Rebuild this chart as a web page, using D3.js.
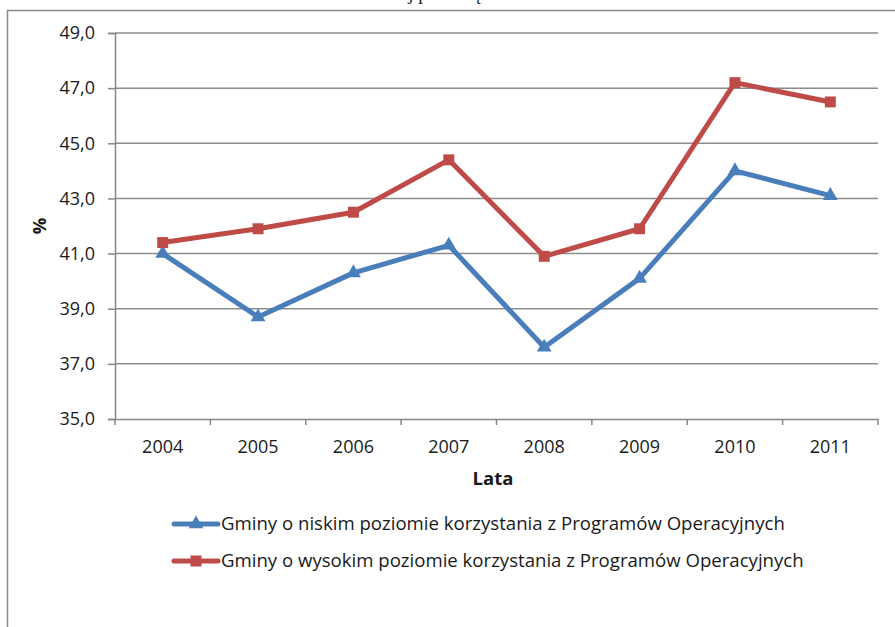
<!DOCTYPE html>
<html>
<head>
<meta charset="utf-8">
<script src="https://cdn.jsdelivr.net/npm/d3@7"></script>
<style>
  body { margin: 0; background: #fff; }
  svg { display: block; }
  text { font-family: "Open Sans", sans-serif; fill: #1a1a1a; }
</style>
</head>
<body>
<svg id="chart" width="895" height="627"></svg>
<script>
const years = ['2004', '2005', '2006', '2007', '2008', '2009', '2010', '2011'];
const lowUse = [41.0, 38.7, 40.3, 41.3, 37.6, 40.1, 44.0, 43.1];
const highUse = [41.4, 41.9, 42.5, 44.4, 40.9, 41.9, 47.2, 46.5];
const yTicks = [35, 37, 39, 41, 43, 45, 47, 49];
const seriesNames = [
  'Gminy o niskim poziomie korzystania z Programów Operacyjnych',
  'Gminy o wysokim poziomie korzystania z Programów Operacyjnych'
];

const width = 895, height = 627;
const margin = { top: 33, right: 17, bottom: 208, left: 115 };
const blue = '#4a7ebb', red = '#be4b48';

const svg = d3.select('#chart');

// frame of the cut-out figure
svg.append('path')
  .attr('d', `M7.5,${height} V10.5 H${width}`)
  .attr('fill', 'none')
  .attr('stroke', '#8a8a8a')
  .attr('stroke-width', 1.5);

// title, mostly cut off at the top
svg.append('text')
  .attr('x', 456)
  .attr('y', 0)
  .attr('text-anchor', 'middle')
  .style('font-family', '"Liberation Serif", serif')
  .style('font-size', '19px')
  .text('lokalnej przedsiębiorczości');

const x = d3.scaleBand()
  .domain(years)
  .range([margin.left, width - margin.right]);

const y = d3.scaleLinear()
  .domain([35, 49])
  .range([height - margin.bottom, margin.top]);

// gridlines
svg.append('g')
  .selectAll('line')
  .data(yTicks.slice(1))
  .join('line')
  .attr('x1', margin.left)
  .attr('x2', width - margin.right)
  .attr('y1', d => y(d))
  .attr('y2', d => y(d))
  .attr('stroke', '#8c8c8c')
  .attr('stroke-width', 1.5);

// y axis
const yAxis = svg.append('g')
  .attr('transform', `translate(${margin.left},0)`)
  .call(d3.axisLeft(y).tickValues(yTicks).tickSize(7).tickPadding(13)
    .tickFormat(d => d3.format('.1f')(d).replace('.', ',')));
yAxis.select('.domain').attr('stroke', '#868686').attr('stroke-width', 1.5);
yAxis.selectAll('.tick line').attr('stroke', '#868686').attr('stroke-width', 1.5);
yAxis.selectAll('.tick text').attr('fill', '#1a1a1a')
  .style('font-family', '"Open Sans", sans-serif').style('font-size', '18px');

// x axis
const xAxis = svg.append('g')
  .attr('transform', `translate(0,${y(35)})`)
  .call(d3.axisBottom(x).tickSize(0).tickPadding(21));
xAxis.select('.domain').attr('stroke', '#868686').attr('stroke-width', 1.5);
xAxis.selectAll('.tick text').attr('fill', '#1a1a1a')
  .style('font-family', '"Open Sans", sans-serif').style('font-size', '18px');
xAxis.selectAll('.boundary')
  .data(d3.range(years.length + 1))
  .join('line')
  .attr('x1', i => margin.left + i * x.step())
  .attr('x2', i => margin.left + i * x.step())
  .attr('y1', 0)
  .attr('y2', 6)
  .attr('stroke', '#868686')
  .attr('stroke-width', 1.5);

// axis titles
svg.append('text')
  .attr('x', 493)
  .attr('y', 485)
  .attr('text-anchor', 'middle')
  .style('font-size', '18.5px')
  .style('font-weight', 'bold')
  .text('Lata');

svg.append('text')
  .attr('transform', 'translate(46,226) rotate(-90)')
  .attr('text-anchor', 'middle')
  .style('font-size', '18.5px')
  .style('font-weight', 'bold')
  .text('%');

const line = d3.line()
  .x((d, i) => x(years[i]) + x.bandwidth() / 2)
  .y(d => y(d));

const triangle = d3.symbol().type(d3.symbolTriangle).size(95);
const square = d3.symbol().type(d3.symbolSquare).size(120);

function drawSeries(values, color, symbol) {
  svg.append('path')
    .datum(values)
    .attr('d', line)
    .attr('fill', 'none')
    .attr('stroke', color)
    .attr('stroke-width', 5)
    .attr('stroke-linejoin', 'round');
  svg.append('g')
    .selectAll('path')
    .data(values)
    .join('path')
    .attr('transform', (d, i) => `translate(${x(years[i]) + x.bandwidth() / 2},${y(d)})`)
    .attr('d', symbol)
    .attr('fill', color);
}

drawSeries(lowUse, blue, triangle);
drawSeries(highUse, red, square);

// legend
const legend = svg.append('g');
const legendItems = [
  { name: seriesNames[0], color: blue, symbol: triangle, y: 524 },
  { name: seriesNames[1], color: red, symbol: square, y: 561 }
];
legendItems.forEach(item => {
  legend.append('line')
    .attr('x1', 174).attr('x2', 218)
    .attr('y1', item.y).attr('y2', item.y)
    .attr('stroke', item.color)
    .attr('stroke-width', 5)
    .attr('stroke-linecap', 'round');
  legend.append('path')
    .attr('transform', `translate(196,${item.y})`)
    .attr('d', item.symbol)
    .attr('fill', item.color);
  legend.append('text')
    .attr('x', 221)
    .attr('y', item.y + 6)
    .style('font-size', '18.6px')
    .text(item.name);
});
</script>
</body>
</html>
